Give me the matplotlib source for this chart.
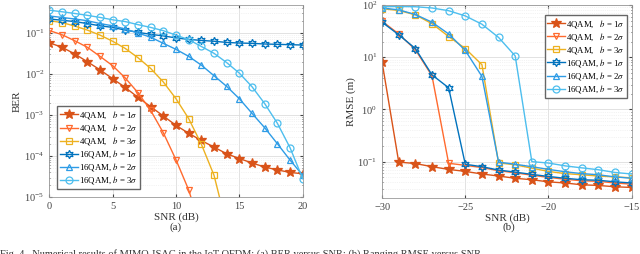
import numpy as np
import matplotlib.pyplot as plt

plt.rcParams['font.family'] = ['Liberation Serif', 'DejaVu Serif']
plt.rcParams['mathtext.fontset'] = 'stix'

# (a) BER versus SNR
snr_a = list(range(0, 21))
ber_4qam_b1 = [0.058, 0.045, 0.031, 0.020, 0.0127, 0.0077, 0.0047, 0.0027, 0.0016, 0.00095,
               0.00056, 0.00036, 0.00024, 0.000165, 0.000114, 0.000087, 0.000068, 0.000054,
               0.000046, 0.000040, 0.000037]
ber_4qam_b2 = [0.115, 0.091, 0.065, 0.045, 0.027, 0.016, 0.0080, 0.0035, 0.0013, 0.00037,
               0.000081, 0.000015, 0.0000015]
ber_4qam_b3 = [0.20, 0.18, 0.148, 0.118, 0.089, 0.063, 0.042, 0.025, 0.0137, 0.0064,
               0.0025, 0.00082, 0.000195, 0.000034, 0.000002]
ber_16qam_b1 = [0.22, 0.205, 0.19, 0.17, 0.15, 0.137, 0.118, 0.104, 0.093, 0.085, 0.076,
                0.070, 0.066, 0.063, 0.059, 0.057, 0.056, 0.054, 0.053, 0.052, 0.051]
ber_16qam_b2 = [0.26, 0.24, 0.22, 0.20, 0.17, 0.15, 0.125, 0.10, 0.079, 0.056, 0.040,
                0.027, 0.0165, 0.0091, 0.0050, 0.0025, 0.0011, 0.00049, 0.00020, 0.000080,
                0.000034]
ber_16qam_b3 = [0.36, 0.33, 0.30, 0.27, 0.24, 0.21, 0.19, 0.16, 0.137, 0.114, 0.089,
                0.069, 0.047, 0.032, 0.019, 0.0105, 0.0049, 0.0019, 0.00063, 0.00016,
                0.000028]

# (b) RMSE versus SNR
snr_b = list(range(-30, -14))
rmse_4qam_b1 = [8.1, 0.098, 0.092, 0.080, 0.071, 0.065, 0.058, 0.053, 0.048, 0.045, 0.041,
                0.039, 0.036, 0.035, 0.033, 0.032]
rmse_4qam_b2 = [49, 28, 14, 4.4, 0.093, 0.085, 0.077, 0.067, 0.061, 0.055, 0.050, 0.046,
                0.043, 0.042, 0.039, 0.037]
rmse_4qam_b3 = [85, 79, 65, 44, 25, 14.7, 7.2, 0.095, 0.087, 0.075, 0.065, 0.059, 0.056,
                0.053, 0.051, 0.049]
rmse_16qam_b1 = [47, 27, 14.7, 4.6, 2.6, 0.089, 0.080, 0.069, 0.063, 0.057, 0.052, 0.048,
                 0.045, 0.044, 0.041, 0.039]
rmse_16qam_b2 = [88, 81, 66, 47, 28, 13.5, 4.3, 0.098, 0.089, 0.080, 0.071, 0.064, 0.059,
                 0.056, 0.051, 0.048]
rmse_16qam_b3 = [93, 94, 93, 88, 78, 62, 43, 24, 10.6, 0.10, 0.094, 0.083, 0.076, 0.070,
                 0.062, 0.058]

labels = ['4QAM,   $b$ = 1$\\sigma$', '4QAM,   $b$ = 2$\\sigma$', '4QAM,   $b$ = 3$\\sigma$',
          '16QAM, $b$ = 1$\\sigma$', '16QAM, $b$ = 2$\\sigma$', '16QAM, $b$ = 3$\\sigma$']
colors = ['#D95319', '#FF6A2E', '#EDB120', '#0072BD', '#2E9CE6', '#4DBEEE']
markers = ['*', 'v', 's', (6, 1, 0), '^', 'o']
sizes = [7, 5, 5, 6, 5, 5]

fig = plt.figure(figsize=(6.4, 2.54), dpi=100)
ax1 = fig.add_axes([0.077, 0.224, 0.396, 0.756])
ax2 = fig.add_axes([0.597, 0.220, 0.390, 0.760])


def style(ax):
    ax.grid(True, which='major', color='#dddddd', linewidth=0.6)
    ax.grid(True, which='minor', color='#e8e8e8', linewidth=0.5, linestyle=':')
    ax.tick_params(which='both', direction='in', labelsize=7.5, colors='#444444',
                   top=True, right=True, length=2)
    ax.tick_params(which='minor', length=1)
    for s in ax.spines.values():
        s.set_color('#999999')
        s.set_linewidth(0.6)


def draw(ax, x, series):
    for i, y in enumerate(series):
        filled = markers[i] == '*'
        ax.semilogy(x[:len(y)], y, marker=markers[i], color=colors[i], linewidth=1,
                    markersize=sizes[i], markeredgewidth=0.9,
                    markerfacecolor=colors[i] if filled else 'none', label=labels[i])


draw(ax1, snr_a, [ber_4qam_b1, ber_4qam_b2, ber_4qam_b3,
                  ber_16qam_b1, ber_16qam_b2, ber_16qam_b3])
ax1.set_xlim(0, 20)
ax1.set_ylim(1e-5, 0.48)
ax1.set_xticks([0, 5, 10, 15, 20])
ax1.set_xlabel('SNR (dB)', fontsize=8, color='#333333', labelpad=1)
ax1.set_ylabel('BER', fontsize=8, color='#333333', labelpad=2)
style(ax1)
ax1.legend(loc='lower left', fontsize=6.3, handlelength=2.0, handletextpad=0.2,
           labelspacing=0.12, borderpad=0.3, fancybox=False, edgecolor='#666666',
           framealpha=1, bbox_to_anchor=(0.015, 0.02))

draw(ax2, snr_b, [rmse_4qam_b1, rmse_4qam_b2, rmse_4qam_b3,
                  rmse_16qam_b1, rmse_16qam_b2, rmse_16qam_b3])
ax2.set_xlim(-30, -15)
ax2.set_ylim(0.02, 100)
ax2.set_xticks([-30, -25, -20, -15])
ax2.set_xlabel('SNR (dB)', fontsize=8, color='#333333', labelpad=1)
ax2.set_ylabel('RMSE (m)', fontsize=8, color='#333333', labelpad=1)
style(ax2)
ax2.legend(loc='upper right', fontsize=6.3, handlelength=2.0, handletextpad=0.2,
           labelspacing=0.12, borderpad=0.3, fancybox=False, edgecolor='#666666',
           framealpha=1, bbox_to_anchor=(1.0, 0.97))

fig.text(0.275, 0.095, '(a)', ha='center', fontsize=8, color='#333333')
fig.text(0.795, 0.095, '(b)', ha='center', fontsize=8, color='#333333')
fig.text(0.0, -0.012, 'Fig. 4.  Numerical results of MIMO-ISAC in the IoT-OFDM: (a) BER versus SNR; '
         '(b) Ranging RMSE versus SNR.', fontsize=7.5, color='#333333')

fig.savefig('out.png', dpi=100)
